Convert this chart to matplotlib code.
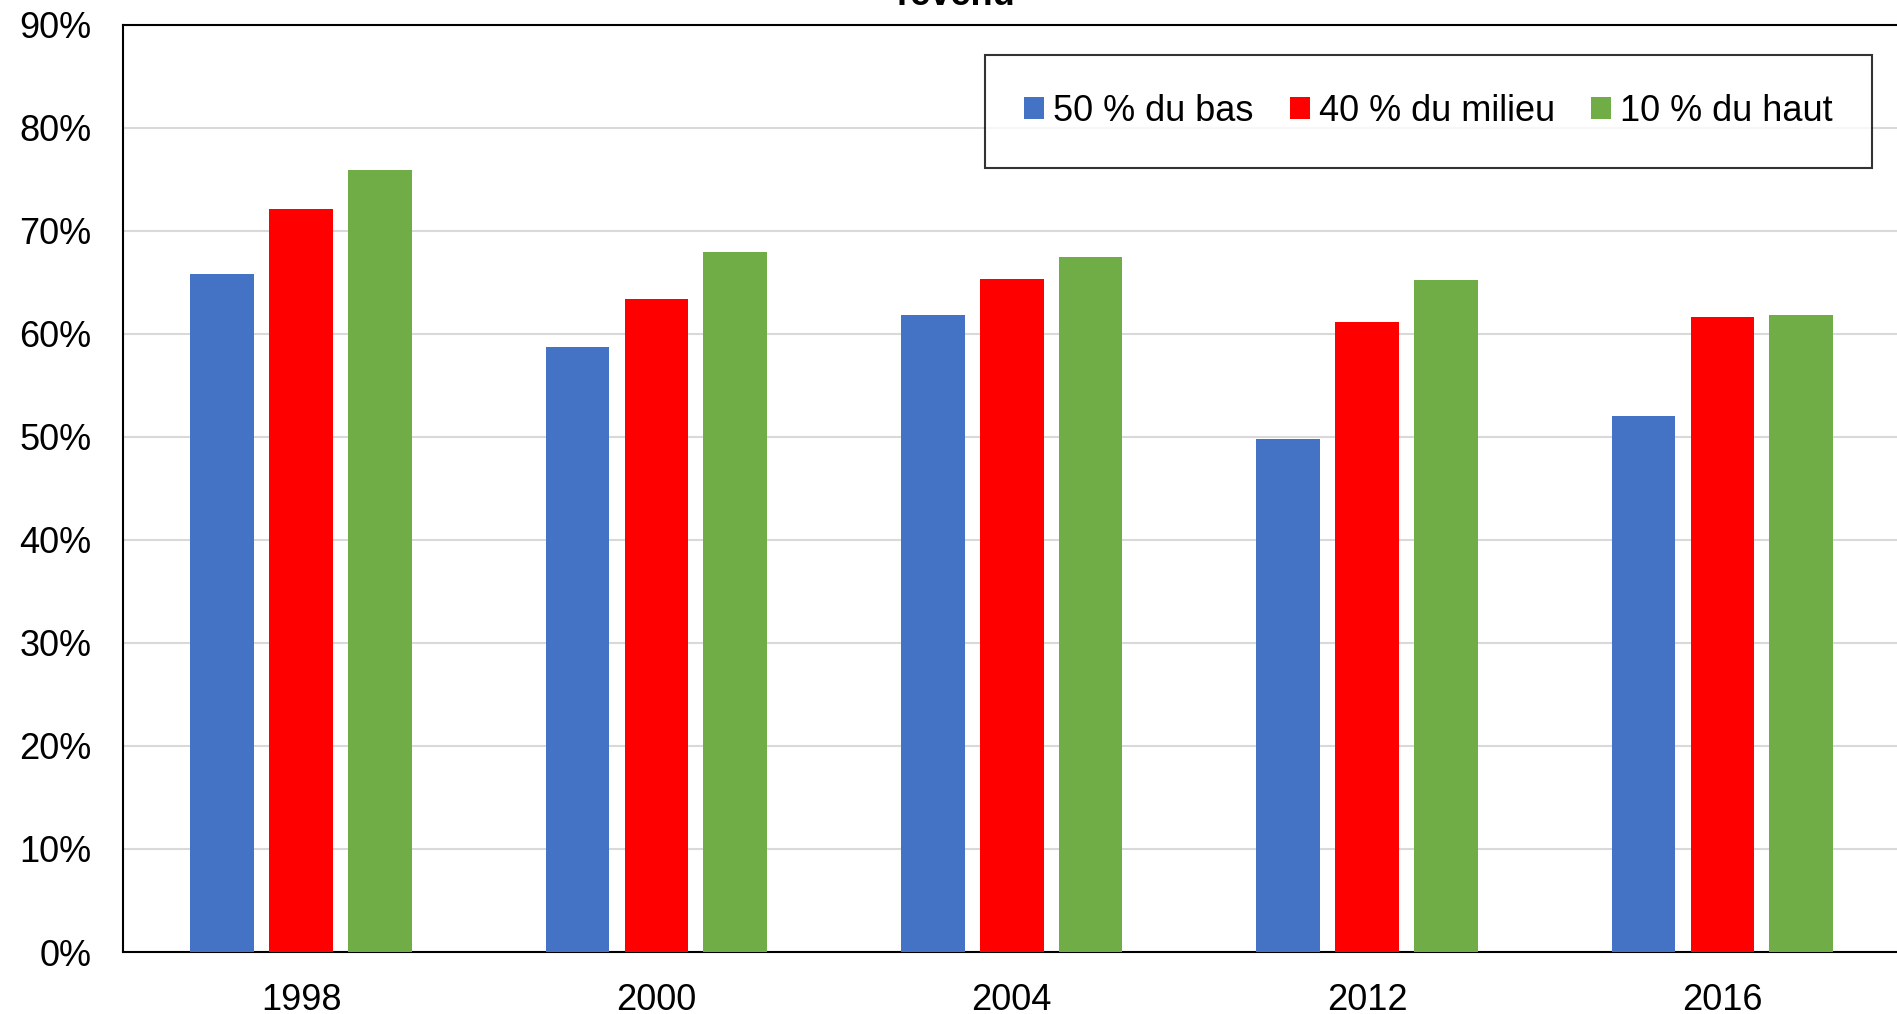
#!/usr/bin/python3
# -*- coding: utf-8 -*-
"""
Grouped bar chart, shares by income group
"""
import numpy as np
import matplotlib.pyplot as plt

# Data (in %)
years = ["1998", "2000", "2004", "2012", "2016"]
bas = [65.8, 58.7, 61.8, 49.8, 52.0]
milieu = [72.1, 63.4, 65.3, 61.1, 61.6]
haut = [75.9, 67.9, 67.4, 65.2, 61.8]
labels = ["50 % du bas", "40 % du milieu", "10 % du haut"]
colors = ["#4472C4", "#FF0000", "#70AD47"]

plt.rcParams['font.family'] = ['Liberation Sans', 'DejaVu Sans']
plt.rcParams['font.size'] = 26

fig = plt.figure(figsize=(18.97, 10.14), dpi=100)
ax = fig.add_axes([123.4 / 1897, 1 - 952 / 1014, (1900 - 123.4) / 1897, (952 - 24.5) / 1014])

x = np.arange(len(years))
width = 0.179
pitch = 0.222
for i, (vals, lab, c) in enumerate(zip([bas, milieu, haut], labels, colors)):
    ax.bar(x + (i - 1) * pitch, vals, width, color=c, label=lab, zorder=3)

ax.set_xlim(-0.5, len(years) - 0.5)
ax.set_ylim(0, 90)
ax.set_yticks(np.arange(0, 91, 10))
ax.set_yticklabels(["%d%%" % v for v in range(0, 91, 10)])
ax.set_xticks(x)
ax.set_xticklabels(years)
ax.tick_params(axis='both', length=0)
ax.tick_params(axis='y', pad=23)
ax.tick_params(axis='x', pad=22)
ax.yaxis.grid(True, color="#D9D9D9", lw=1.5, zorder=0)

for s in ax.spines.values():
    s.set_color("black")
    s.set_linewidth(1.5)

leg = ax.legend(loc='center', bbox_to_anchor=(1428.5 / 1897, 1 - 111.5 / 1014),
                bbox_transform=fig.transFigure, ncol=3, frameon=True, fancybox=False,
                handlelength=0.56, handleheight=0.58, handletextpad=0.25,
                columnspacing=1.0, borderpad=1.08, fontsize=26)
leg.get_frame().set_edgecolor("black")
leg.get_frame().set_linewidth(1.5)

# title sits mostly above the visible area
fig.text(956 / 1897, 1 - 5 / 1014, "revenu", ha='center', va='baseline',
         fontsize=26, fontweight='bold')

plt.savefig("out.png", dpi=100)
